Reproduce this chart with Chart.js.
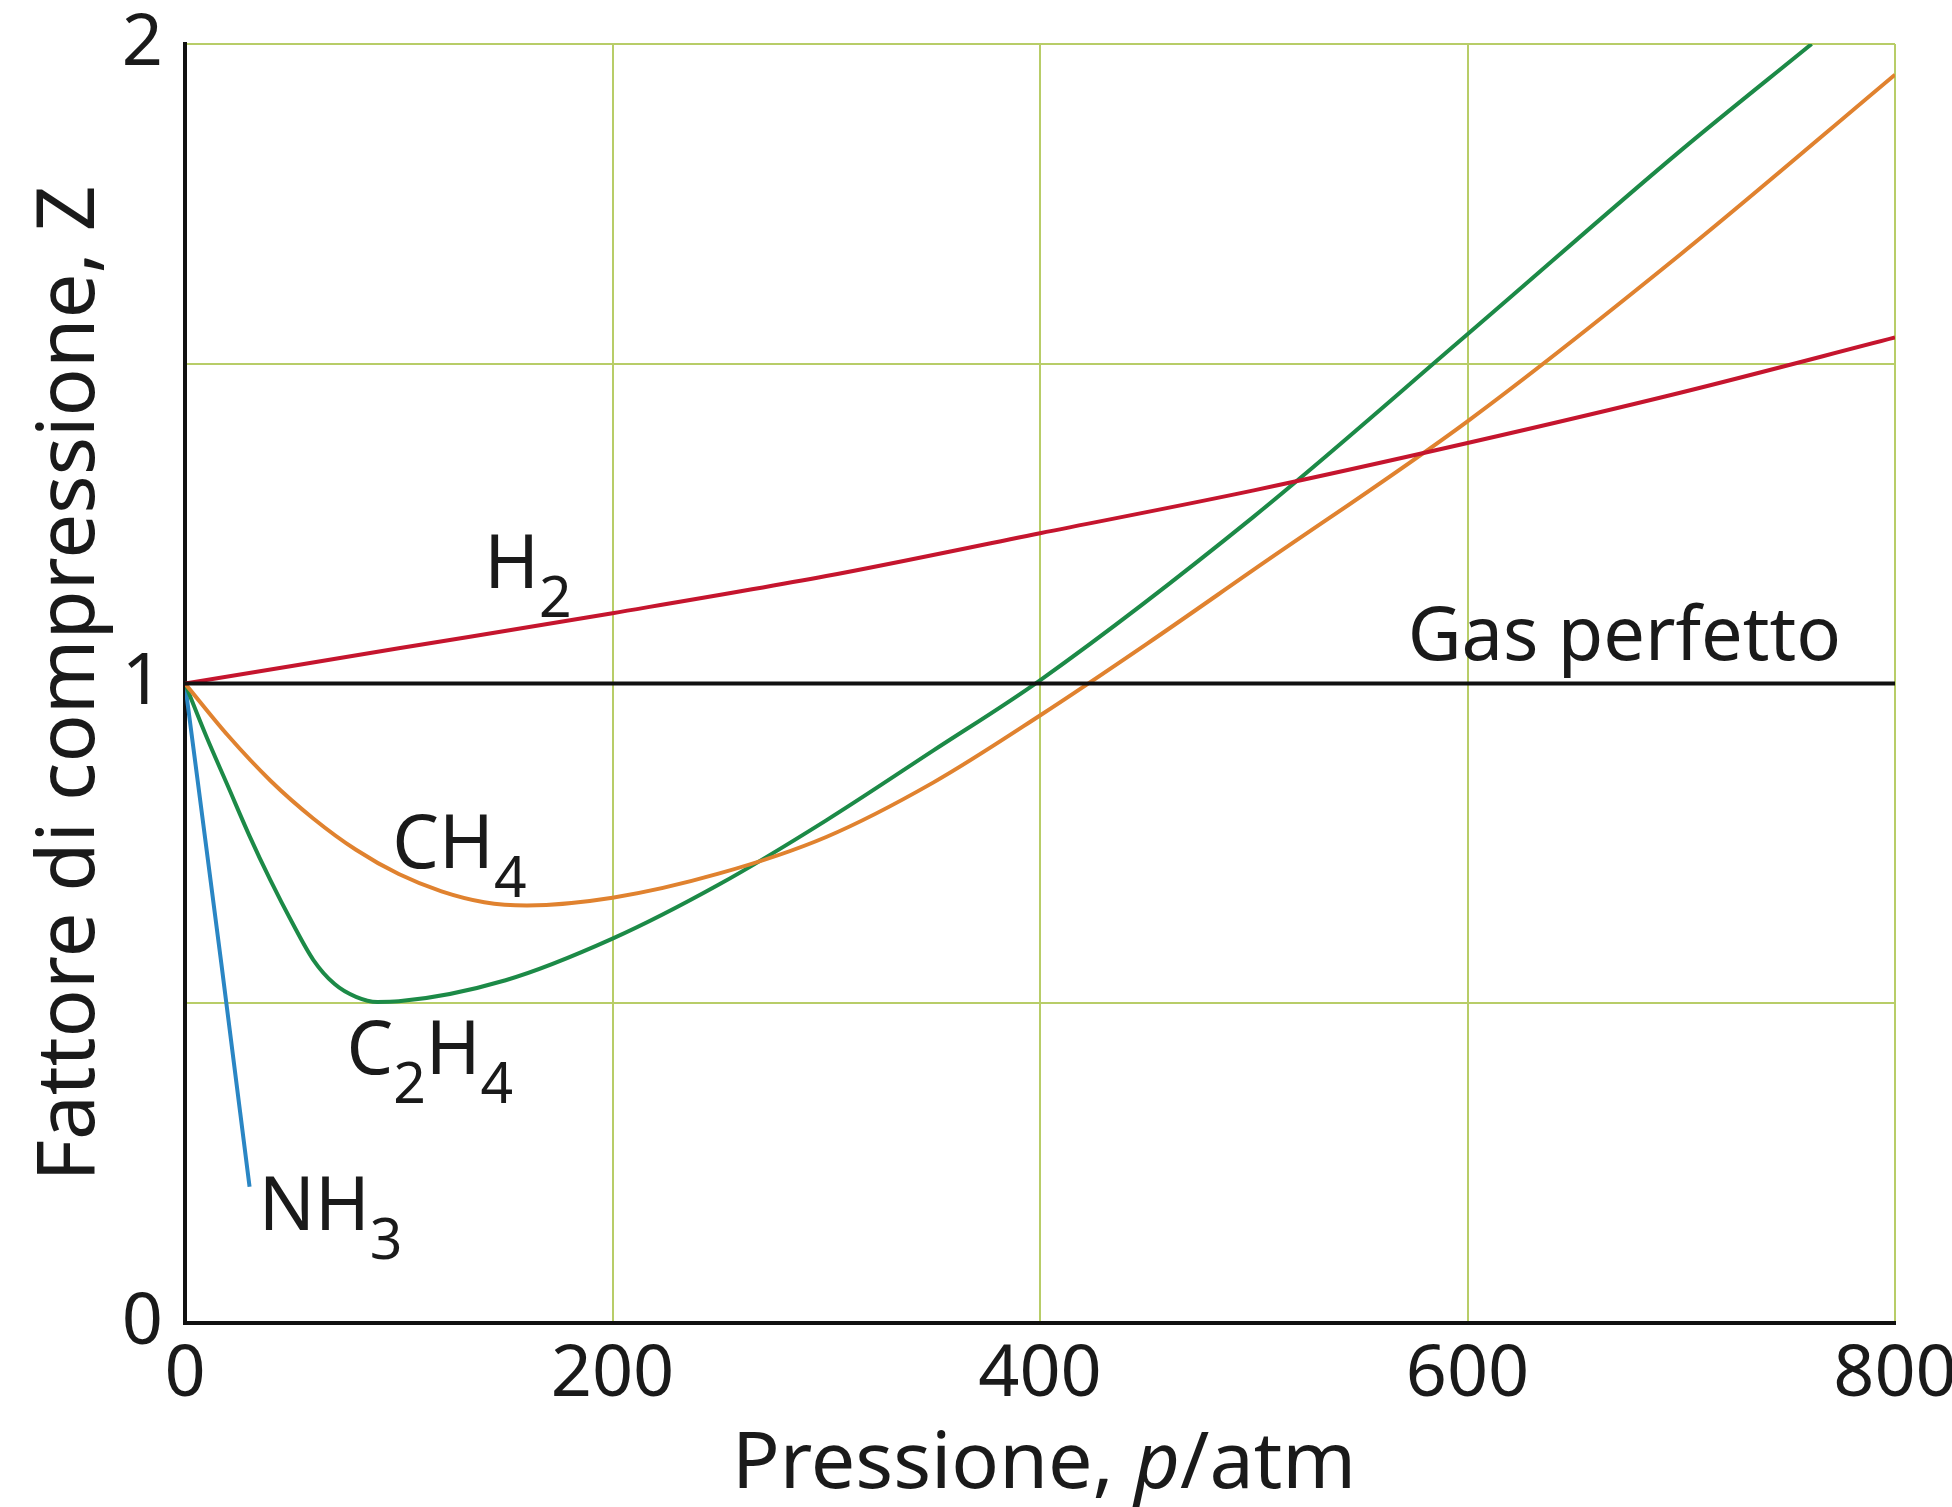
<!DOCTYPE html>
<html>
<head>
<meta charset="utf-8">
<script src="https://cdn.jsdelivr.net/npm/chart.js@4.4.1/dist/chart.umd.min.js"></script>
<style>
  html, body { margin: 0; padding: 0; background: #ffffff; }
  #wrap { width: 1952px; height: 1507px; }
</style>
</head>
<body>
<div id="wrap"><canvas id="c" width="1952" height="1507"></canvas></div>
<script>
// ---- data (pressure in atm, compression factor Z) ----
const xTicks = [0, 200, 400, 600, 800];
const yTicks = [0, 1, 2];

const h2P   = [0, 100, 200, 300, 400, 500, 600, 700, 800];
const h2Z   = [1.0, 1.055, 1.11, 1.168, 1.235, 1.302, 1.376, 1.455, 1.541];

const ch4P  = [0, 20, 40, 60, 80, 100, 120, 140, 160, 200, 250, 300, 350, 400, 450, 500, 600, 700, 800];
const ch4Z  = [1.0, 0.919, 0.848, 0.789, 0.740, 0.702, 0.675, 0.658, 0.653, 0.665, 0.703, 0.760, 0.845, 0.950, 1.062, 1.178, 1.410, 1.672, 1.952];

const c2h4P = [0, 10, 20, 30, 40, 50, 60, 70, 80, 90, 100, 150, 200, 250, 300, 350, 400, 500, 600, 700, 761];
const c2h4Z = [1.0, 0.917, 0.840, 0.763, 0.692, 0.627, 0.568, 0.530, 0.510, 0.502, 0.503, 0.536, 0.601, 0.686, 0.786, 0.895, 1.005, 1.261, 1.546, 1.834, 2.0];

const nh3P  = [0, 17, 30.2];
const nh3Z  = [1.0, 0.562, 0.213];

const idealP = [0, 800];
const idealZ = [1, 1];

const labelNames = ['H2', 'CH4', 'C2H4', 'NH3', 'Gas perfetto'];
const labelP     = [140, 97, 75.5, 34.5, 572];
const labelZ     = [1.15, 0.711, 0.389, 0.145, 1.036];

const xTitle = 'Pressione, ';
const xTitleItalic = 'p';
const xTitleEnd = '/atm';
const yTitle = 'Fattore di compressione, Z';

const FONT = '"Noto Sans", "Liberation Sans", Arial, sans-serif';

function pts(xs, ys) { return xs.map((x, i) => ({ x: x, y: ys[i] })); }

const gridColor = '#b8cd68';

const labelPlugin = {
  id: 'curveLabels',
  afterDatasetsDraw(chart) {
    const ctx = chart.ctx;
    const xs = chart.scales.x, ys = chart.scales.y;
    ctx.save();
    ctx.fillStyle = '#1a1a1a';
    ctx.textBaseline = 'alphabetic';
    ctx.textAlign = 'left';
    labelNames.forEach((name, i) => {
      let x = xs.getPixelForValue(labelP[i]);
      const y = ys.getPixelForValue(labelZ[i]);
      const parts = name.match(/\d+|\D+/g);
      parts.forEach(part => {
        const isSub = /^\d+$/.test(part);
        ctx.font = (isSub ? '57px ' : '74px ') + FONT;
        ctx.fillText(part, x, isSub ? y + 29 : y);
        x += ctx.measureText(part).width;
      });
    });
    ctx.restore();
  }
};

// custom x title with italic p
const xTitlePlugin = {
  id: 'xTitleCustom',
  afterDraw(chart) {
    const ctx = chart.ctx;
    const ca = chart.chartArea;
    ctx.save();
    ctx.fillStyle = '#1a1a1a';
    ctx.textBaseline = 'alphabetic';
    const f1 = '79px ' + FONT, f2 = 'italic 79px ' + FONT;
    ctx.font = f1; const w1 = ctx.measureText(xTitle).width; const w3 = ctx.measureText(xTitleEnd).width;
    ctx.font = f2; const w2 = ctx.measureText(xTitleItalic).width;
    const total = w1 + w2 + w3;
    let x = (ca.left + ca.right) / 2 - total / 2 + 4;
    const y = 1488;
    ctx.font = f1; ctx.fillText(xTitle, x, y); x += w1;
    ctx.font = f2; ctx.fillText(xTitleItalic, x, y); x += w2;
    ctx.font = f1; ctx.fillText(xTitleEnd, x, y);
    ctx.restore();
  }
};

new Chart(document.getElementById('c'), {
  type: 'scatter',
  data: {
    datasets: [
      { label: 'Gas perfetto', data: pts(idealP, idealZ), borderColor: '#111111', borderWidth: 4 },
      { label: 'H2', data: pts(h2P, h2Z), borderColor: '#c5152e', borderWidth: 4 },
      { label: 'CH4', data: pts(ch4P, ch4Z), borderColor: '#e0822f', borderWidth: 4 },
      { label: 'C2H4', data: pts(c2h4P, c2h4Z), borderColor: '#1c8a47', borderWidth: 4 },
      { label: 'NH3', data: pts(nh3P, nh3Z), borderColor: '#2a86c4', borderWidth: 4 }
    ].map(d => Object.assign(d, { showLine: true, pointRadius: 0, pointHoverRadius: 0, fill: false, cubicInterpolationMode: 'monotone' }))
  },
  options: {
    responsive: false,
    animation: false,
    devicePixelRatio: 1,
    events: [],
    layout: { padding: { left: 0, right: 57, top: 44, bottom: 0 } },
    plugins: { legend: { display: false }, tooltip: { enabled: false } },
    scales: {
      x: {
        type: 'linear', min: 0, max: 800,
        afterFit(s) { s.height = 184; s.paddingLeft = 0; s.paddingRight = 0; },
        afterBuildTicks(s) { s.ticks = xTicks.map(v => ({ value: v })); },
        grid: { color: gridColor, lineWidth: 2, drawTicks: false },
        border: { display: true, color: '#111111', width: 4 },
        ticks: { padding: 9, color: '#1a1a1a', font: { family: FONT, size: 72 }, maxRotation: 0, autoSkip: false },
        title: { display: false }
      },
      y: {
        type: 'linear', min: 0, max: 2,
        afterFit(s) { s.width = 185; s.paddingTop = 0; s.paddingBottom = 0; },
        afterBuildTicks(s) { s.ticks = [0, 0.5, 1, 1.5, 2].map(v => ({ value: v })); },
        grid: { color: gridColor, lineWidth: 2, drawTicks: false },
        border: { display: true, color: '#111111', width: 4 },
        ticks: {
          padding: 22, color: '#1a1a1a', font: { family: FONT, size: 72 }, autoSkip: false,
          callback: v => (yTicks.includes(v) ? String(v) : '')
        },
        title: { display: true, text: yTitle, color: '#1a1a1a', font: { family: FONT, size: 80, lineHeight: 1 }, padding: { top: 31, bottom: 0 } }
      }
    }
  },
  plugins: [labelPlugin, xTitlePlugin]
});
</script>
</body>
</html>
